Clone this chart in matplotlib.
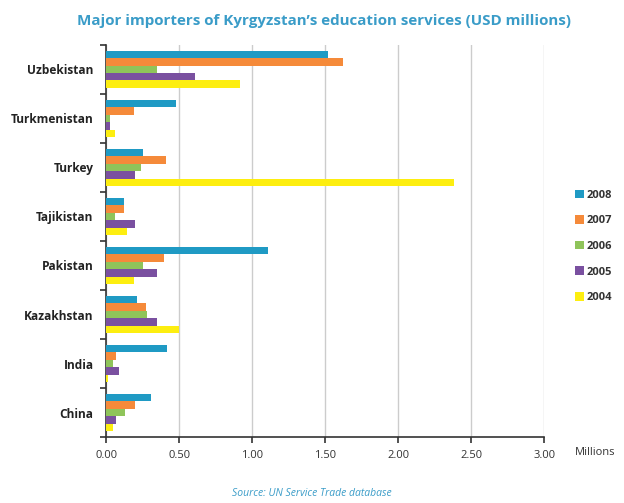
import numpy as np
import matplotlib
matplotlib.use("Agg")
import matplotlib.pyplot as plt
from matplotlib.patches import Patch

# data
countries = ["Uzbekistan", "Turkmenistan", "Turkey", "Tajikistan",
             "Pakistan", "Kazakhstan", "India", "China"]
years = ["2008", "2007", "2006", "2005", "2004"]
v2008 = [1.52, 0.48, 0.25, 0.12, 1.11, 0.21, 0.42, 0.31]
v2007 = [1.62, 0.19, 0.41, 0.12, 0.40, 0.27, 0.07, 0.20]
v2006 = [0.35, 0.03, 0.24, 0.06, 0.25, 0.28, 0.05, 0.13]
v2005 = [0.61, 0.03, 0.20, 0.20, 0.35, 0.35, 0.09, 0.07]
v2004 = [0.92, 0.06, 2.38, 0.14, 0.19, 0.50, 0.01, 0.05]
xticks = [0.0, 0.5, 1.0, 1.5, 2.0, 2.5, 3.0]

colors = ["#1f9ac4", "#f58a3a", "#8fc45a", "#7a50a0", "#fdee10"]
series = [v2008, v2007, v2006, v2005, v2004]

plt.rcParams['font.family'] = ['Open Sans', 'DejaVu Sans']

fig = plt.figure(figsize=(6.24, 5.03), dpi=100)
ax = fig.add_axes([0.170, 0.131, 0.702, 0.780])

n = len(countries)
bh = 0.152
# group i sits at y = n-1-i (top to bottom), bars top->bottom 2008..2004
base = np.arange(n)[::-1]
for j, (vals, c) in enumerate(zip(series, colors)):
    y = base + 0.38 - bh / 2 - j * bh
    ax.barh(y, vals, height=bh, color=c, edgecolor='none', zorder=3)

ax.set_xlim(0, 3.0)
ax.set_ylim(-0.5, n - 0.5)
ax.set_xticks(xticks)
ax.set_xticklabels([f"{t:.2f}" for t in xticks], fontsize=8, color="#333333")
ax.set_yticks(base)
ax.set_yticklabels(countries, fontsize=8.6, color="#222222", fontweight='bold')
ax.set_yticks(np.arange(-0.5, n, 1.0), minor=True)
ax.tick_params(axis='y', which='major', length=0, pad=9)
ax.tick_params(axis='y', which='minor', length=4, width=1.2, color="#333333")
ax.tick_params(axis='x', length=4, width=1.2, color="#333333", pad=5)

ax.grid(axis='x', color="#cccccc", linewidth=1, zorder=0)
for s in ['top', 'right']:
    ax.spines[s].set_visible(False)
for s in ['left', 'bottom']:
    ax.spines[s].set_color("#333333")
    ax.spines[s].set_linewidth(1.2)

handles = [Patch(facecolor=c, edgecolor='none') for c in colors]
leg = fig.legend(handles, years, loc='center left', bbox_to_anchor=(0.905, 0.51),
                 frameon=False, fontsize=8, handlelength=0.8, handleheight=0.8,
                 labelspacing=1.3, handletextpad=0.3)
for t in leg.get_texts():
    t.set_fontweight('bold')
    t.set_color("#333333")

fig.text(0.52, 0.958, "Major importers of Kyrgyzstan\u2019s education services (USD millions)",
         ha='center', va='center', fontsize=10.9, fontweight='bold', color="#3a9cc8")
fig.text(0.922, 0.101, "Millions", ha='left', va='center', fontsize=8, color="#333333")
fig.text(0.5, 0.018, "Source: UN Service Trade database", ha='center', va='center',
         fontsize=7.5, style='italic', color="#3a9cc8")

fig.savefig("out.png", dpi=100)
